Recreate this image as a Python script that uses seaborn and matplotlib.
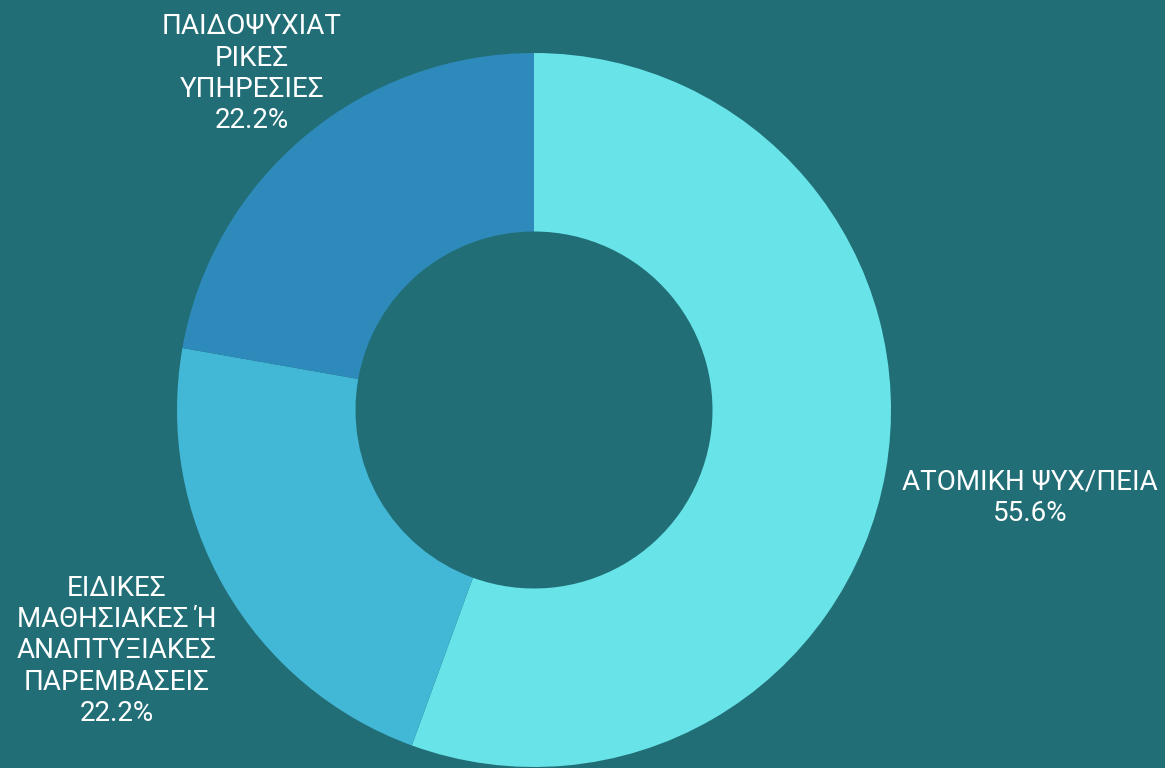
import matplotlib
matplotlib.use("Agg")
import matplotlib.pyplot as plt
import seaborn as sns
import numpy as np

sns.set_theme(style="white")
plt.rcParams['font.family'] = ['Roboto', 'DejaVu Sans']

# data
categories = ["ΑΤΟΜΙΚΗ ΨΥΧ/ΠΕΙΑ",
              "ΕΙΔΙΚΕΣ\nΜΑΘΗΣΙΑΚΕΣ Ή\nΑΝΑΠΤΥΞΙΑΚΕΣ\nΠΑΡΕΜΒΑΣΕΙΣ",
              "ΠΑΙΔΟΨΥΧΙΑΤ\nΡΙΚΕΣ\nΥΠΗΡΕΣΙΕΣ"]
counts = [5, 2, 2]
colors = ["#68e4e8", "#42b8d6", "#2e8aba"]
label_radius = [1.41, 1.35, 1.23]

bg = "#216e77"
fig = plt.figure(figsize=(11.65, 7.68), dpi=100, facecolor=bg)
ax = fig.add_axes([0, 0, 1, 1])
ax.set_facecolor(bg)

wedges, _ = ax.pie(counts, colors=colors, startangle=90, counterclock=False,
                   radius=1.0, wedgeprops=dict(width=0.5, linewidth=0))

total = sum(counts)
for w, cat, c, r in zip(wedges, categories, counts, label_radius):
    ang = np.deg2rad((w.theta1 + w.theta2) / 2)
    ax.text(r * np.cos(ang), r * np.sin(ang), f"{cat}\n{c / total * 100:.1f}%",
            ha="center", va="center", color="white", fontsize=20, linespacing=1.2)

# place pie center at about (534, 410) px, radius ~357 px
R = 357.0
ax.set_xlim(-534 / R, (1165 - 534) / R)
ax.set_ylim(-(768 - 410) / R, 410 / R)
ax.set_aspect("auto")
ax.axis("off")

fig.savefig("out.png", dpi=100, facecolor=bg)
